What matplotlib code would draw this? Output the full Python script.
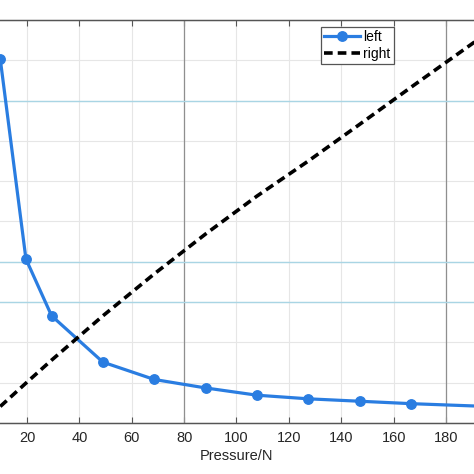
import numpy as np
import matplotlib.pyplot as plt
from matplotlib.lines import Line2D

plt.rcParams['font.family'] = ['Liberation Sans', 'DejaVu Sans']

# Pressure points (N) = mass (kg) * 9.8
pressure = [9.8, 19.6, 29.4, 49.0, 68.6, 88.2, 107.8, 127.4, 147.0, 166.6, 196.0]
left_vals = [9.03, 4.07, 2.66, 1.51, 1.08, 0.87, 0.69, 0.60, 0.54, 0.48, 0.41]
right_vals = [0.41, 0.99, 1.56, 2.66, 3.70, 4.69, 5.63, 6.50, 7.41, 8.33, 9.69]

x_ticks = np.arange(0, 201, 20)
y_ticks = np.arange(0, 11, 1)
blue_lines = [3, 4, 8]      # light blue horizontal grid lines
dark_lines = [80, 180]      # darker vertical grid lines

blue = '#2a7de1'
W = 474

fig = plt.figure(figsize=(4.74, 4.74), dpi=100)
# axes run past the left and right edges of the picture (cropped figure)
ax = fig.add_axes([-25.4 / W, 51 / W, 523.8 / W, 403 / W])

ax.set_xlim(0, 200)
ax.set_ylim(0, 10)
ax.set_xticks(x_ticks)
ax.set_yticks(y_ticks)
ax.set_axisbelow(True)
ax.grid(True, color='#e6e6e6', lw=0.8)
for v in dark_lines:
    ax.axvline(v, color='#8f8f8f', lw=0.9, zorder=0.8)
for v in blue_lines:
    ax.axhline(v, color='#a9d5e4', lw=1.0, zorder=0.8)

ax.plot(pressure, left_vals, '-o', color=blue, lw=2.3, ms=6.8, zorder=3)

ax2 = ax.twinx()
ax2.set_ylim(0, 10)
ax2.set_yticks(y_ticks)
ax2.plot(pressure, right_vals, color='black', lw=2.6, dashes=(2.4, 1.4), zorder=3)

for a in (ax, ax2):
    for s in a.spines.values():
        s.set_color('#555555')
        s.set_linewidth(0.9)
ax.tick_params(axis='x', direction='in', length=4, width=0.8, color='#555555',
               top=True, labelsize=10.5, pad=6, labelcolor='#262626')
ax.tick_params(axis='y', direction='in', length=4, width=0.8, color='#555555',
               labelsize=10.5, labelcolor='#262626')
ax2.tick_params(axis='y', direction='in', length=4, width=0.8, color='#555555',
                labelsize=10.5, labelcolor='#262626')

ax.set_xlabel('Pressure/N', fontsize=10.5, labelpad=3, color='#262626')

handles = [Line2D([], [], color=blue, lw=2.3, marker='o', ms=6.8),
           Line2D([], [], color='black', lw=2.6, dashes=(2.4, 1.4))]
leg = ax2.legend(handles, ['left', 'right'], loc='upper left',
                 bbox_to_anchor=(320.7 / W, 1 - 26.7 / W), bbox_transform=fig.transFigure,
                 fancybox=False, framealpha=1, edgecolor='#555555', fontsize=10,
                 borderpad=0.25, handlelength=2.6, handletextpad=0.2,
                 labelspacing=0.2, borderaxespad=0)
leg.get_frame().set_linewidth(0.9)

fig.savefig('out.png', dpi=100)
